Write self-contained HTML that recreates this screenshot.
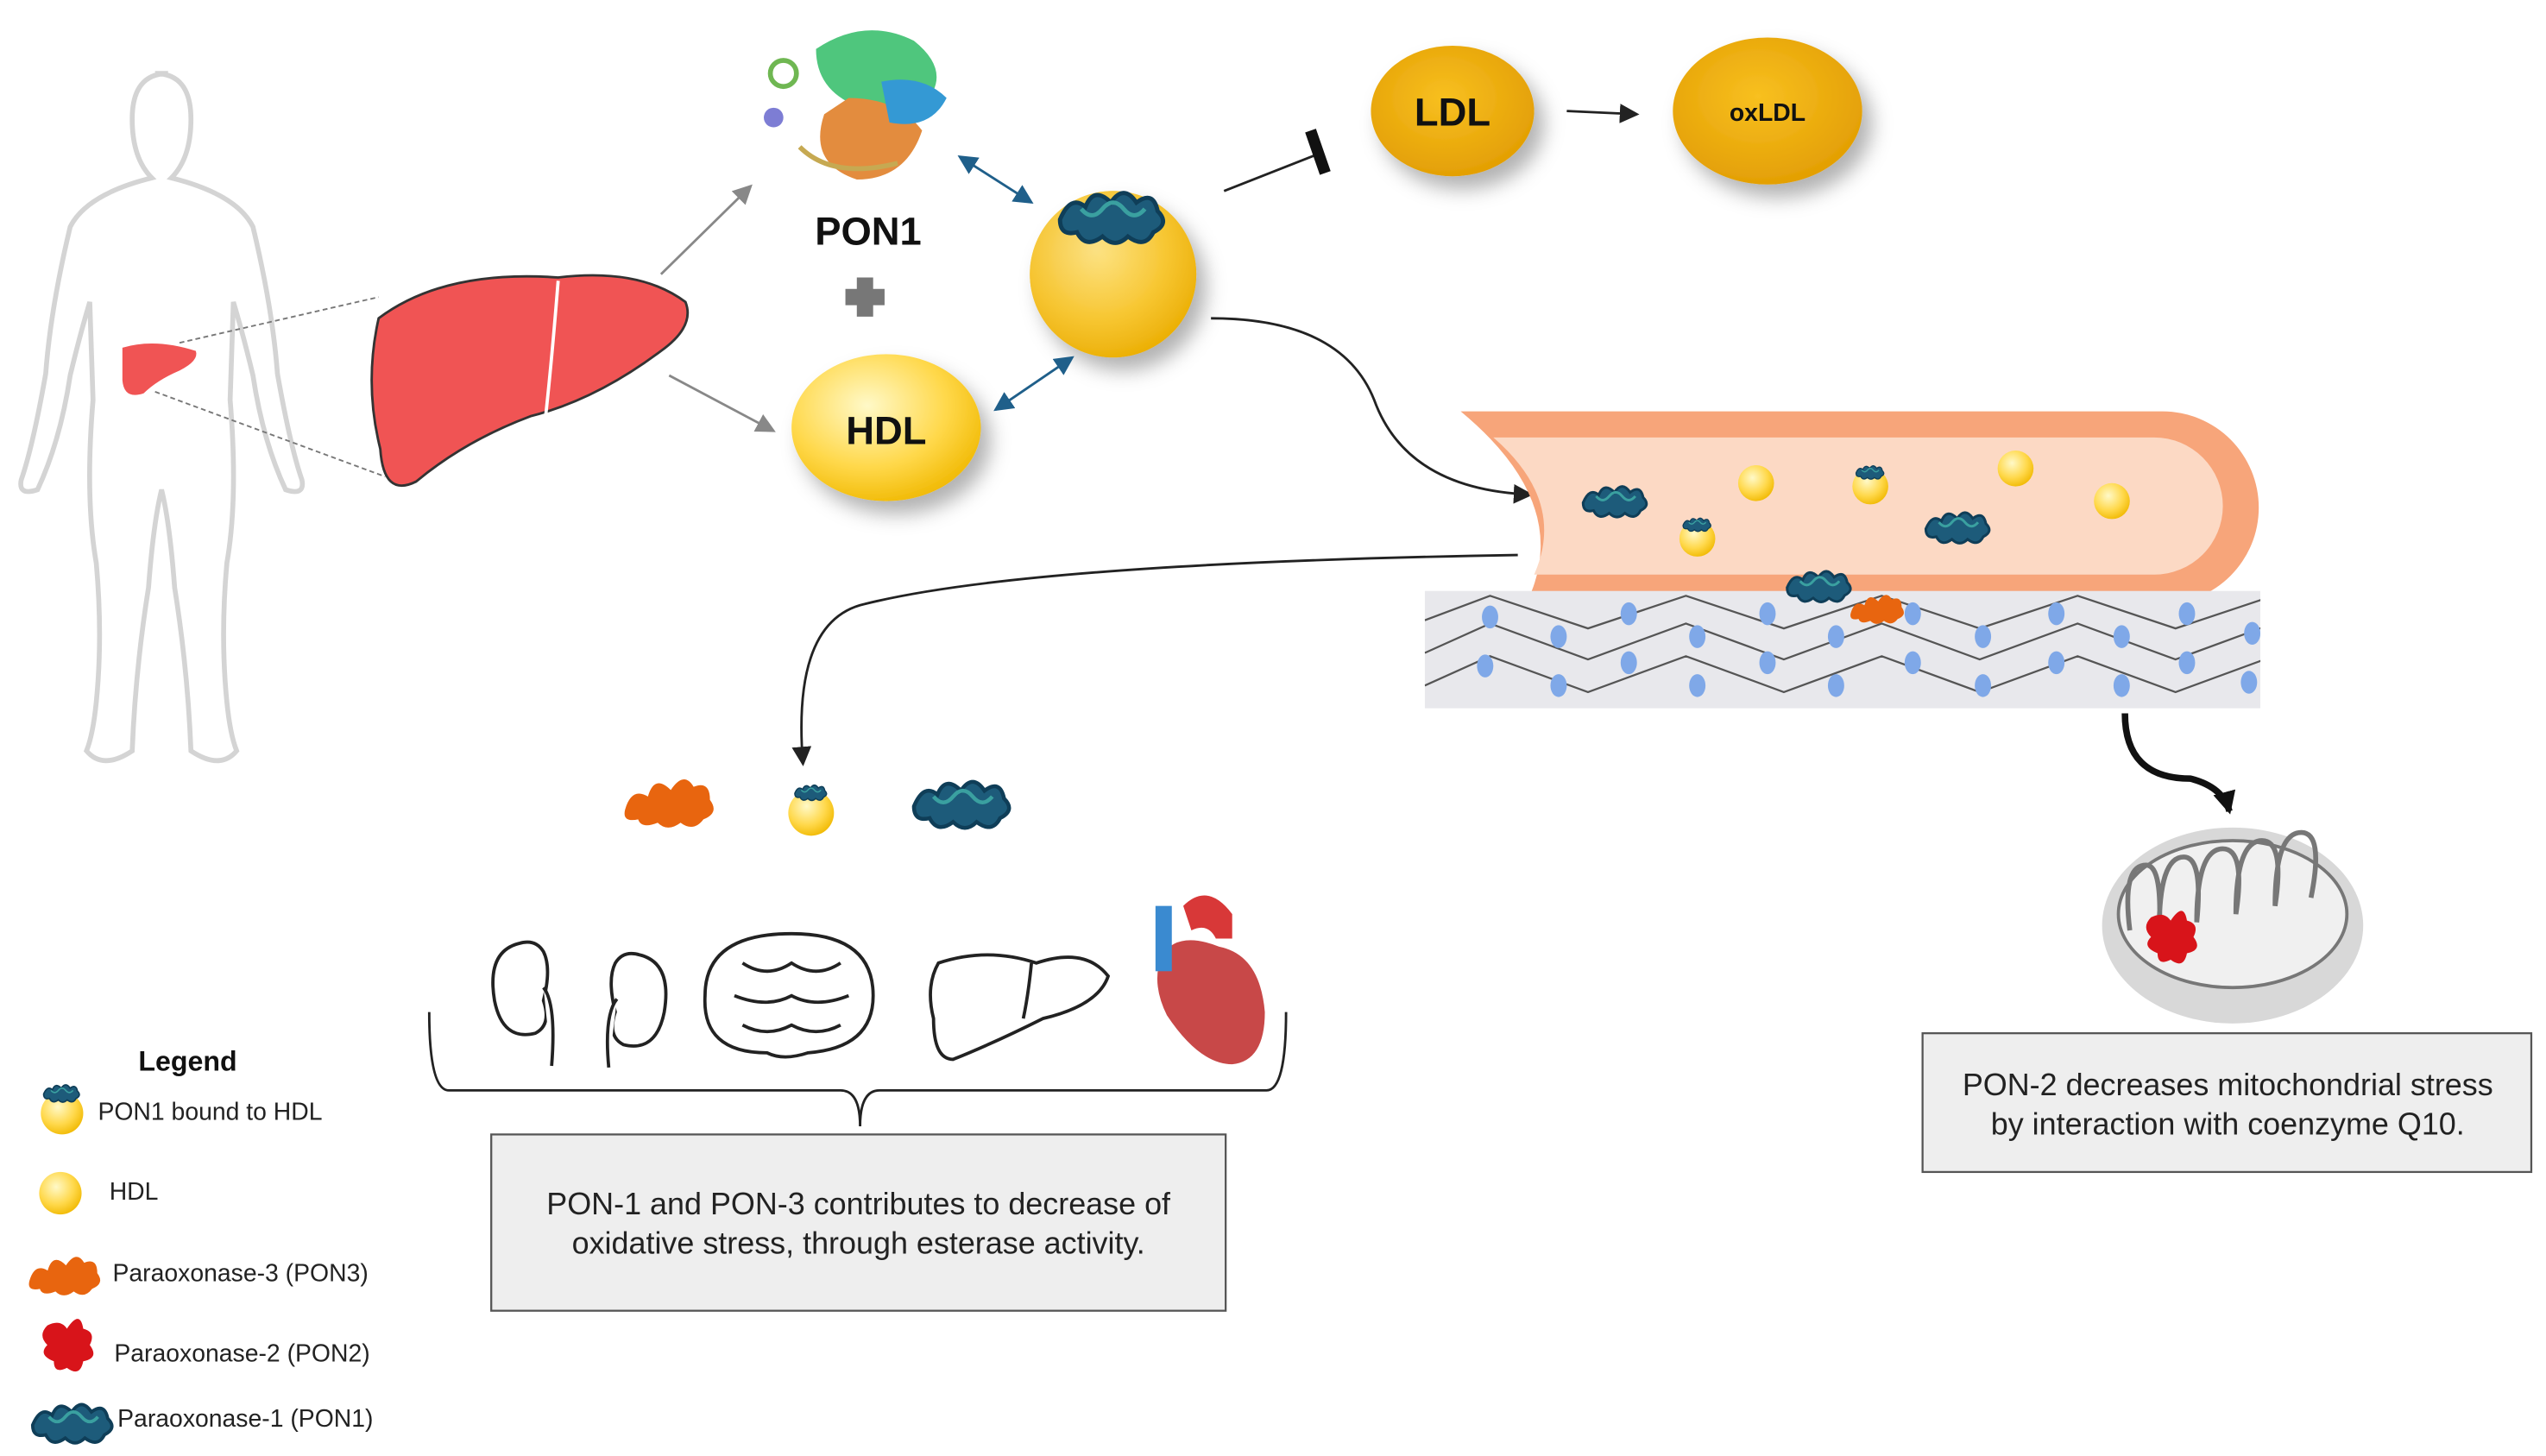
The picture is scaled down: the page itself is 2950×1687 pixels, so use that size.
<!DOCTYPE html>
<html><head><meta charset="utf-8"><style>
html,body{margin:0;padding:0;background:#fff;}
svg{display:block;}
text{font-family:"Liberation Sans",Arial,sans-serif;}
</style></head><body>
<svg width="2950" height="1687" viewBox="0 0 1560 892" preserveAspectRatio="none" xmlns="http://www.w3.org/2000/svg">
<defs>
<radialGradient id="yel" cx="0.4" cy="0.35" r="0.7"><stop offset="0" stop-color="#fff9c8"/><stop offset="0.6" stop-color="#ffd84a"/><stop offset="1" stop-color="#f0b800"/></radialGradient>
<radialGradient id="gold" cx="0.45" cy="0.4" r="0.7"><stop offset="0" stop-color="#f8c020"/><stop offset="1" stop-color="#e09a00"/></radialGradient>
<filter id="sh" x="-30%" y="-30%" width="180%" height="180%"><feDropShadow dx="6" dy="8" stdDeviation="6" flood-color="#000" flood-opacity="0.3"/></filter>
<clipPath id="endo"><rect x="873" y="362" width="512" height="72"/></clipPath>
<marker id="ar" markerWidth="8" markerHeight="8" refX="7" refY="4" orient="auto"><path d="M0,0 L8,4 L0,8 z" fill="#222"/></marker>
<marker id="arbig" markerUnits="userSpaceOnUse" markerWidth="14" markerHeight="14" refX="12" refY="7" orient="auto"><path d="M0,0 L14,7 L0,14 z" fill="#111"/></marker>
<marker id="arg" markerWidth="8" markerHeight="8" refX="7" refY="4" orient="auto"><path d="M0,0 L8,4 L0,8 z" fill="#888"/></marker>
<marker id="arb" markerWidth="8" markerHeight="8" refX="7" refY="4" orient="auto"><path d="M0,0 L8,4 L0,8 z" fill="#1f5f8a"/></marker>
<marker id="arbs" markerWidth="8" markerHeight="8" refX="1" refY="4" orient="auto"><path d="M8,0 L0,4 L8,8 z" fill="#1f5f8a"/></marker>
<g id="teal"><path d="M-25,5 q5,-12 12,-6 q4,-10 12,-2 q6,-9 12,0 q8,-6 10,4 q6,6 -2,10 q-4,8 -12,2 q-6,6 -12,0 q-8,6 -12,-2 q-8,2 -8,-6z" fill="#1d5b7a" stroke="#0f3e58" stroke-width="2"/><path d="M-15,0 q5,6 10,0 q5,-6 10,0 q5,6 10,0" fill="none" stroke="#3aa0a0" stroke-width="2"/></g>
<g id="orange"><path d="M-30,6 q4,-14 14,-8 q4,-14 14,-4 q8,-12 14,-2 q10,-4 10,8 q6,8 -4,12 q-6,8 -14,2 q-8,6 -14,0 q-10,4 -12,-2 q-10,2 -8,-6z" fill="#e8650f"/></g>
<g id="red"><path d="M-14,-10 q8,-4 12,2 q8,-12 10,0 q8,2 4,10 q6,8 -4,10 q-2,10 -10,4 q-8,4 -8,-4 q-10,-4 -4,-10 q-6,-6 0,-12z" fill="#d8141a"/></g>
</defs>

<!-- human silhouette -->
<path d="M95,45 q22,0 22,28 q0,24 -12,36 q40,10 50,30 q12,50 15,90 q8,45 15,65 q2,10 -10,6 q-14,-30 -20,-70 q-6,-25 -12,-45 l-2,60 q5,60 -2,100 q-4,45 0,85 q2,20 6,30 q-10,12 -28,0 q-2,-50 -10,-100 q-3,-40 -8,-60 q-5,20 -8,60 q-8,50 -10,100 q-18,12 -28,0 q4,-10 6,-30 q4,-40 0,-85 q-7,-40 -2,-100 l-2,-60 q-6,20 -12,45 q-6,40 -20,70 q-12,4 -10,-6 q7,-20 15,-65 q3,-40 15,-90 q10,-20 50,-30 q-12,-12 -12,-36 q0,-28 22,-28z" fill="#fff" stroke="#d4d4d4" stroke-width="3"/>
<path d="M75,213 q20,-6 45,2 q2,6 -10,12 q-14,6 -22,14 q-12,4 -13,-8z" fill="#f05454"/>
<line x1="110" y1="210" x2="232" y2="182" stroke="#777" stroke-dasharray="3,2"/>
<line x1="95" y1="240" x2="236" y2="292" stroke="#777" stroke-dasharray="3,2"/>
<!-- big liver -->
<path d="M232,195 q40,-30 110,-25 q50,-6 78,15 q6,15 -15,30 q-40,30 -80,40 q-40,15 -70,40 q-20,10 -22,-20 q-10,-40 -1,-80z" fill="#f05454" stroke="#333" stroke-width="1.5"/>
<path d="M342,172 q-4,50 -8,86" fill="none" stroke="#fff" stroke-width="2"/>
<line x1="405" y1="168" x2="460" y2="114" stroke="#888" stroke-width="1.5" marker-end="url(#arg)"/>
<line x1="410" y1="230" x2="474" y2="264" stroke="#888" stroke-width="1.5" marker-end="url(#arg)"/>

<!-- protein structure -->
<g opacity="0.9">
<path d="M500,30 q30,-20 60,-5 q25,20 5,40 q-20,10 -40,0 q-25,-10 -25,-35z" fill="#3cc070"/>
<path d="M520,60 q30,0 45,20 q-10,30 -40,30 q-30,-10 -20,-40z" fill="#e0802a"/>
<path d="M540,50 q25,-5 40,10 q-10,20 -35,15z" fill="#1f8fd0"/>
<circle cx="480" cy="45" r="8" fill="none" stroke="#60b040" stroke-width="3"/>
<circle cx="474" cy="72" r="6" fill="#7070d0"/>
<path d="M490,90 q20,20 60,10" fill="none" stroke="#c0a040" stroke-width="3"/>
</g>
<text x="532" y="150" font-size="24" font-weight="bold" text-anchor="middle" fill="#111">PON1</text>
<path d="M525,170 h10 v7 h7 v10 h-7 v7 h-10 v-7 h-7 v-10 h7z" fill="#777"/>

<!-- HDL -->
<ellipse cx="543" cy="262" rx="58" ry="45" fill="url(#yel)" filter="url(#sh)"/>
<text x="543" y="272" font-size="24" font-weight="bold" text-anchor="middle" fill="#111">HDL</text>
<circle cx="682" cy="168" r="51" fill="url(#gold)" filter="url(#sh)"/>
<circle cx="682" cy="168" r="51" fill="url(#yel)" opacity="0.6"/>
<use href="#teal" transform="translate(682,128) scale(1.3)"/>
<line x1="588" y1="96" x2="632" y2="124" stroke="#1f5f8a" stroke-width="1.5" marker-end="url(#arb)" marker-start="url(#arbs)"/>
<line x1="610" y1="251" x2="657" y2="219" stroke="#1f5f8a" stroke-width="1.5" marker-end="url(#arb)" marker-start="url(#arbs)"/>

<!-- inhibit -->
<line x1="750" y1="117" x2="806" y2="95" stroke="#222" stroke-width="1.5"/>
<line x1="803" y1="80" x2="812" y2="106" stroke="#111" stroke-width="7"/>
<ellipse cx="890" cy="68" rx="50" ry="40" fill="url(#gold)" filter="url(#sh)"/>
<text x="890" y="77" font-size="24" font-weight="bold" text-anchor="middle" fill="#111">LDL</text>
<line x1="960" y1="68" x2="1003" y2="70" stroke="#222" stroke-width="1.5" marker-end="url(#ar)"/>
<ellipse cx="1083" cy="68" rx="58" ry="45" fill="url(#gold)" filter="url(#sh)"/>
<text x="1083" y="74" font-size="15" font-weight="bold" text-anchor="middle" fill="#111">oxLDL</text>

<path d="M742,195 q80,0 100,50 q20,55 96,58" fill="none" stroke="#222" stroke-width="1.5" marker-end="url(#ar)"/>

<!-- vessel -->
<path d="M895,252 H1325 a58,58 0 0 1 0,118 H935 q30,-60 -40,-118z" fill="#f7a57a"/>
<path d="M915,268 H1320 a42,42 0 0 1 0,84 H940 q20,-45 -25,-84z" fill="#fcd9c4"/>
<!-- endothelium -->
<g clip-path="url(#endo)">
<rect x="873" y="362" width="512" height="72" fill="#e8e8ec"/>
<g stroke="#555" stroke-width="1.2" fill="none">
<path d="M873,380 l40,-15 l60,20 l60,-20 l60,20 l60,-20 l60,20 l60,-20 l60,20 l60,-20 l52,16"/>
<path d="M873,400 l40,-18 l60,22 l60,-22 l60,22 l60,-22 l60,22 l60,-22 l60,22 l60,-22 l52,20"/>
<path d="M873,420 l40,-18 l60,22 l60,-22 l60,22 l60,-22 l60,22 l60,-22 l60,22 l60,-22 l52,20"/>
</g>
<g fill="#7fa8e8">
<ellipse cx="913" cy="378" rx="5" ry="7"/><ellipse cx="955" cy="390" rx="5" ry="7"/><ellipse cx="998" cy="376" rx="5" ry="7"/><ellipse cx="1040" cy="390" rx="5" ry="7"/><ellipse cx="1083" cy="376" rx="5" ry="7"/><ellipse cx="1125" cy="390" rx="5" ry="7"/><ellipse cx="1172" cy="376" rx="5" ry="7"/><ellipse cx="1215" cy="390" rx="5" ry="7"/><ellipse cx="1260" cy="376" rx="5" ry="7"/><ellipse cx="1300" cy="390" rx="5" ry="7"/><ellipse cx="1340" cy="376" rx="5" ry="7"/><ellipse cx="1380" cy="388" rx="5" ry="7"/>
<ellipse cx="910" cy="408" rx="5" ry="7"/><ellipse cx="955" cy="420" rx="5" ry="7"/><ellipse cx="998" cy="406" rx="5" ry="7"/><ellipse cx="1040" cy="420" rx="5" ry="7"/><ellipse cx="1083" cy="406" rx="5" ry="7"/><ellipse cx="1125" cy="420" rx="5" ry="7"/><ellipse cx="1172" cy="406" rx="5" ry="7"/><ellipse cx="1215" cy="420" rx="5" ry="7"/><ellipse cx="1260" cy="406" rx="5" ry="7"/><ellipse cx="1300" cy="420" rx="5" ry="7"/><ellipse cx="1340" cy="406" rx="5" ry="7"/><ellipse cx="1378" cy="418" rx="5" ry="7"/>
</g>
</g>
<!-- vessel contents -->
<g fill="url(#yel)"><circle cx="1076" cy="296" r="11"/><circle cx="1235" cy="287" r="11"/><circle cx="1294" cy="307" r="11"/><circle cx="1146" cy="298" r="11"/><circle cx="1040" cy="330" r="11"/></g>
<use href="#teal" transform="translate(990,304) scale(0.8)"/>
<use href="#teal" transform="translate(1200,320) scale(0.8)"/>
<use href="#teal" transform="translate(1115,356) scale(0.8)"/>
<use href="#teal" transform="translate(1146,288) scale(0.35)"/>
<use href="#teal" transform="translate(1040,320) scale(0.35)"/>
<use href="#orange" transform="translate(1152,372) scale(0.6)"/>

<path d="M930,340 q-300,5 -400,30 q-45,10 -38,98" fill="none" stroke="#222" stroke-width="1.5" marker-end="url(#ar)"/>

<use href="#orange" transform="translate(413,490)"/>
<circle cx="497" cy="498" r="14" fill="url(#yel)"/>
<use href="#teal" transform="translate(497,484) scale(0.4)"/>
<use href="#teal" transform="translate(590,488) scale(1.2)"/>

<!-- organs -->
<g fill="#fff" stroke="#222" stroke-width="2">
<path d="M318,578 q-20,5 -15,35 q5,25 25,20 q10,-5 5,-20 q5,-20 0,-30 q-5,-8 -15,-5z"/>
<path d="M392,585 q20,5 15,35 q-5,25 -25,20 q-10,-5 -5,-20 q-5,-20 0,-30 q5,-8 15,-5z"/>
<path d="M333,605 q8,10 5,48 M378,612 q-8,10 -5,42"/>
<path d="M485,572 q50,0 50,38 q0,32 -40,35 q-15,5 -25,0 q-40,0 -38,-35 q0,-38 53,-38z"/>
<path d="M575,590 q30,-10 60,0 q30,-10 44,8 q-6,18 -40,26 q-30,15 -55,25 q-12,0 -12,-25 q-5,-20 3,-34z"/>
<path d="M632,590 q-2,20 -5,34"/>
</g>
<path d="M455,590 q15,10 30,0 q15,10 30,0 M450,610 q20,8 35,0 q15,8 35,0 M455,628 q15,8 30,0 q15,8 30,0" fill="none" stroke="#222" stroke-width="2"/>
<path d="M712,585 q10,-15 35,-5 q25,5 28,40 q0,30 -20,32 q-20,0 -40,-30 q-10,-20 -3,-37z" fill="#c84848"/>
<rect x="708" y="555" width="10" height="40" fill="#3a8ad0"/><path d="M725,555 q15,-15 30,5 l0,15 h-10 q-5,-10 -15,-5z" fill="#d83838"/>
<path d="M263,620 q0,48 12,48 H515 q12,0 12,22 q0,-22 12,-22 H776 q12,0 12,-48" fill="none" stroke="#222" stroke-width="1.5"/>

<rect x="301" y="695" width="450" height="108" fill="#eeeeee" stroke="#555" stroke-width="1.2"/>
<text x="526" y="744" font-size="19" text-anchor="middle" fill="#222">PON-1 and PON-3 contributes to decrease of</text>
<text x="526" y="768" font-size="19" text-anchor="middle" fill="#222">oxidative stress, through esterase activity.</text>

<!-- mitochondria -->
<path d="M1302,437 q0,40 40,40 q20,5 24,20" fill="none" stroke="#111" stroke-width="4" marker-end="url(#arbig)"/>
<ellipse cx="1368" cy="567" rx="80" ry="60" fill="#d8d8d8"/>
<ellipse cx="1368" cy="560" rx="70" ry="45" fill="#f0f0f0" stroke="#777" stroke-width="2"/>
<path d="M1305,570 q-5,-40 10,-40 q10,0 8,40 q0,-45 15,-45 q12,0 8,40 q0,-45 16,-45 q14,0 8,40 q0,-45 16,-45 q14,0 8,40 q0,-45 16,-45 q14,0 6,40" fill="none" stroke="#777" stroke-width="3"/>
<use href="#red" transform="translate(1332,572)"/>
<rect x="1178" y="633" width="373" height="85" fill="#eeeeee" stroke="#555" stroke-width="1.2"/>
<text x="1365" y="671" font-size="19" text-anchor="middle" fill="#222">PON-2 decreases mitochondrial stress</text>
<text x="1365" y="695" font-size="19" text-anchor="middle" fill="#222">by interaction with coenzyme Q10.</text>

<!-- legend -->
<text x="115" y="656" font-size="17" font-weight="bold" text-anchor="middle" fill="#111">Legend</text>
<circle cx="38" cy="682" r="13" fill="url(#yel)"/>
<use href="#teal" transform="translate(38,668) scale(0.45)"/>
<text x="60" y="686" font-size="15" fill="#222">PON1 bound to HDL</text>
<circle cx="37" cy="731" r="13" fill="url(#yel)"/>
<text x="67" y="735" font-size="15" fill="#222">HDL</text>
<use href="#orange" transform="translate(42,780) scale(0.8)"/>
<text x="69" y="785" font-size="15" fill="#222">Paraoxonase-3 (PON3)</text>
<use href="#red" transform="translate(43,822) scale(1)"/>
<text x="70" y="834" font-size="15" fill="#222">Paraoxonase-2 (PON2)</text>
<use href="#teal" transform="translate(45,868) scale(1)"/>
<text x="72" y="874" font-size="15" fill="#222">Paraoxonase-1 (PON1)</text>
</svg>
</body></html>
